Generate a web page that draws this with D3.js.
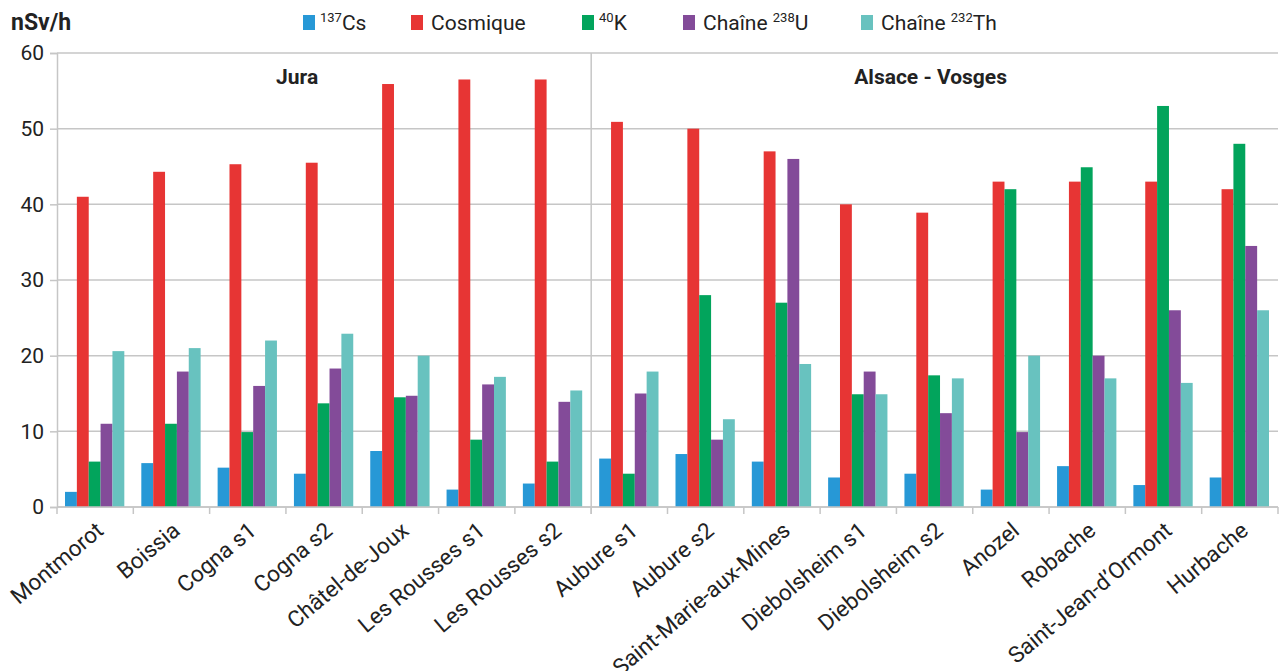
<!DOCTYPE html>
<html>
<head>
<meta charset="utf-8">
<script src="https://cdn.jsdelivr.net/npm/d3@7"></script>
<style>
  html, body { margin: 0; padding: 0; background: #fff; }
  svg { display: block; font-family: Roboto, "Noto Sans", Arial, sans-serif; }
</style>
</head>
<body>
<svg id="chart" width="1280" height="671"></svg>
<script>
// Sites (x categories)
const sites = ["Montmorot", "Boissia", "Cogna s1", "Cogna s2", "Châtel-de-Joux",
  "Les Rousses s1", "Les Rousses s2", "Aubure s1", "Aubure s2", "Saint-Marie-aux-Mines",
  "Diebolsheim s1", "Diebolsheim s2", "Anozel", "Robache", "Saint-Jean-d’Ormont", "Hurbache"];

// Dose rate contributions, nSv/h
const cs137    = [2, 5.8, 5.2, 4.4, 7.4, 2.3, 3.1, 6.4, 7, 6, 3.9, 4.4, 2.3, 5.4, 2.9, 3.9];
const cosmique = [41, 44.3, 45.3, 45.5, 55.9, 56.5, 56.5, 50.9, 50, 47, 40, 38.9, 43, 43, 43, 42];
const k40      = [6, 11, 9.9, 13.7, 14.5, 8.9, 6, 4.4, 28, 27, 14.9, 17.4, 42, 44.9, 53, 48];
const u238     = [11, 17.9, 16, 18.3, 14.7, 16.2, 13.9, 15, 8.9, 46, 17.9, 12.4, 9.9, 20, 26, 34.5];
const th232    = [20.6, 21, 22, 22.9, 20, 17.2, 15.4, 17.9, 11.6, 18.9, 14.9, 17, 20, 17, 16.4, 26];

const seriesNames = ["137Cs", "Cosmique", "40K", "Chaîne 238U", "Chaîne 232Th"];
const seriesValues = [cs137, cosmique, k40, u238, th232];
const colors = ["#2798d6", "#e73534", "#02a45c", "#834b99", "#68c2bf"];

// Regions, with the index of the first and last site of each
const regions = ["Jura", "Alsace - Vosges"];
const regionStart = [0, 7];
const regionEnd = [6, 15];

const yTicks = [0, 10, 20, 30, 40, 50, 60];

const svg = d3.select("#chart");
const margin = { left: 57, right: 2, top: 53, bottom: 164 };
const W = 1280, H = 671;
const x0 = margin.left, x1 = W - margin.right;
const yBase = H - margin.bottom;

const x = d3.scaleBand().domain(sites).range([x0, x1]).paddingInner(0).paddingOuter(0);
const xs = d3.scaleBand().domain(seriesNames).range([8, x.bandwidth() - 9]).padding(0);
const y = d3.scaleLinear().domain([0, 60]).range([yBase, margin.top]);

const grid = "#c6c6c6";

// Horizontal grid lines
svg.append("g")
  .selectAll("line")
  .data(yTicks)
  .join("line")
  .attr("x1", x0).attr("x2", x1)
  .attr("y1", d => y(d)).attr("y2", d => y(d))
  .attr("stroke", grid).attr("stroke-width", 1.5);

// Y axis
const yAxis = svg.append("g")
  .attr("transform", `translate(${x0},0)`)
  .call(d3.axisLeft(y).tickValues(yTicks).tickSize(7).tickPadding(6));
yAxis.select(".domain").attr("stroke", grid).attr("stroke-width", 1.5);
yAxis.selectAll(".tick line").attr("stroke", grid).attr("stroke-width", 1.5);
yAxis.selectAll(".tick text").attr("font-size", 21).attr("fill", "#222").attr("font-family", "Roboto");

// Region separator
regions.forEach((r, i) => {
  if (i > 0) {
    const sx = x(sites[regionStart[i]]);
    svg.append("line")
      .attr("x1", sx).attr("x2", sx)
      .attr("y1", y(60)).attr("y2", yBase + 7)
      .attr("stroke", grid).attr("stroke-width", 1.5);
  }
});

// Bars
const groups = svg.append("g")
  .selectAll("g")
  .data(sites)
  .join("g")
  .attr("transform", d => `translate(${x(d)},0)`);

groups.selectAll("rect")
  .data((d, i) => seriesNames.map((s, k) => ({ s, k, v: seriesValues[k][i] })))
  .join("rect")
  .attr("x", d => xs(d.s))
  .attr("width", xs.bandwidth())
  .attr("y", d => y(d.v))
  .attr("height", d => yBase - y(d.v))
  .attr("fill", d => colors[d.k]);

// X axis with ticks at band boundaries
const xAxis = svg.append("g").attr("transform", `translate(0,${yBase})`);
xAxis.append("line")
  .attr("x1", x0).attr("x2", x1)
  .attr("stroke", grid).attr("stroke-width", 1.5);
const boundaries = sites.map(s => x(s)).concat([x1]);
xAxis.selectAll("line.tick")
  .data(boundaries)
  .join("line")
  .attr("class", "tick")
  .attr("x1", d => d).attr("x2", d => d)
  .attr("y1", 0).attr("y2", 7)
  .attr("stroke", grid).attr("stroke-width", 1.5);

xAxis.selectAll("text")
  .data(sites)
  .join("text")
  .attr("transform", d => `translate(${x(d) + x.bandwidth() / 2 - 1},${13}) rotate(-40)`)
  .attr("text-anchor", "end")
  .attr("dominant-baseline", "hanging")
  .attr("font-size", 22.5)
  .attr("fill", "#222")
  .text(d => d);

// Region titles, the first one set a little left of its span centre
const titleShift = [-27, -4];
regions.forEach((r, i) => {
  const cx = (x(sites[regionStart[i]]) + x(sites[regionEnd[i]]) + x.bandwidth()) / 2;
  svg.append("text")
    .attr("x", cx + titleShift[i]).attr("y", 84)
    .attr("text-anchor", "middle")
    .attr("font-size", 21).attr("font-weight", "bold")
    .attr("fill", "#222")
    .text(r);
});

// Unit label
svg.append("text")
  .attr("x", 11).attr("y", 30)
  .attr("font-size", 23).attr("font-weight", "bold")
  .attr("fill", "#222")
  .text("nSv/h");

// Legend
const legendItems = [
  { pre: "", sup: "137", post: "Cs", x: 303 },
  { pre: "Cosmique", sup: "", post: "", x: 411 },
  { pre: "", sup: "40", post: "K", x: 582 },
  { pre: "Chaîne ", sup: "238", post: "U", x: 683 },
  { pre: "Chaîne ", sup: "232", post: "Th", x: 861 }
];
const legend = svg.append("g");
legendItems.forEach((it, i) => {
  legend.append("rect")
    .attr("x", it.x).attr("y", 15).attr("width", 12).attr("height", 15)
    .attr("fill", colors[i]);
  const t = legend.append("text")
    .attr("x", it.x + (it.pre ? 20 : 17)).attr("y", 30)
    .attr("font-size", 21).attr("fill", "#222");
  if (it.pre) t.append("tspan").text(it.pre);
  if (it.sup) t.append("tspan").attr("font-size", 13).attr("dy", -8).text(it.sup);
  if (it.post) t.append("tspan").attr("dy", it.sup ? 8 : 0).text(it.post);
});
</script>
</body>
</html>
